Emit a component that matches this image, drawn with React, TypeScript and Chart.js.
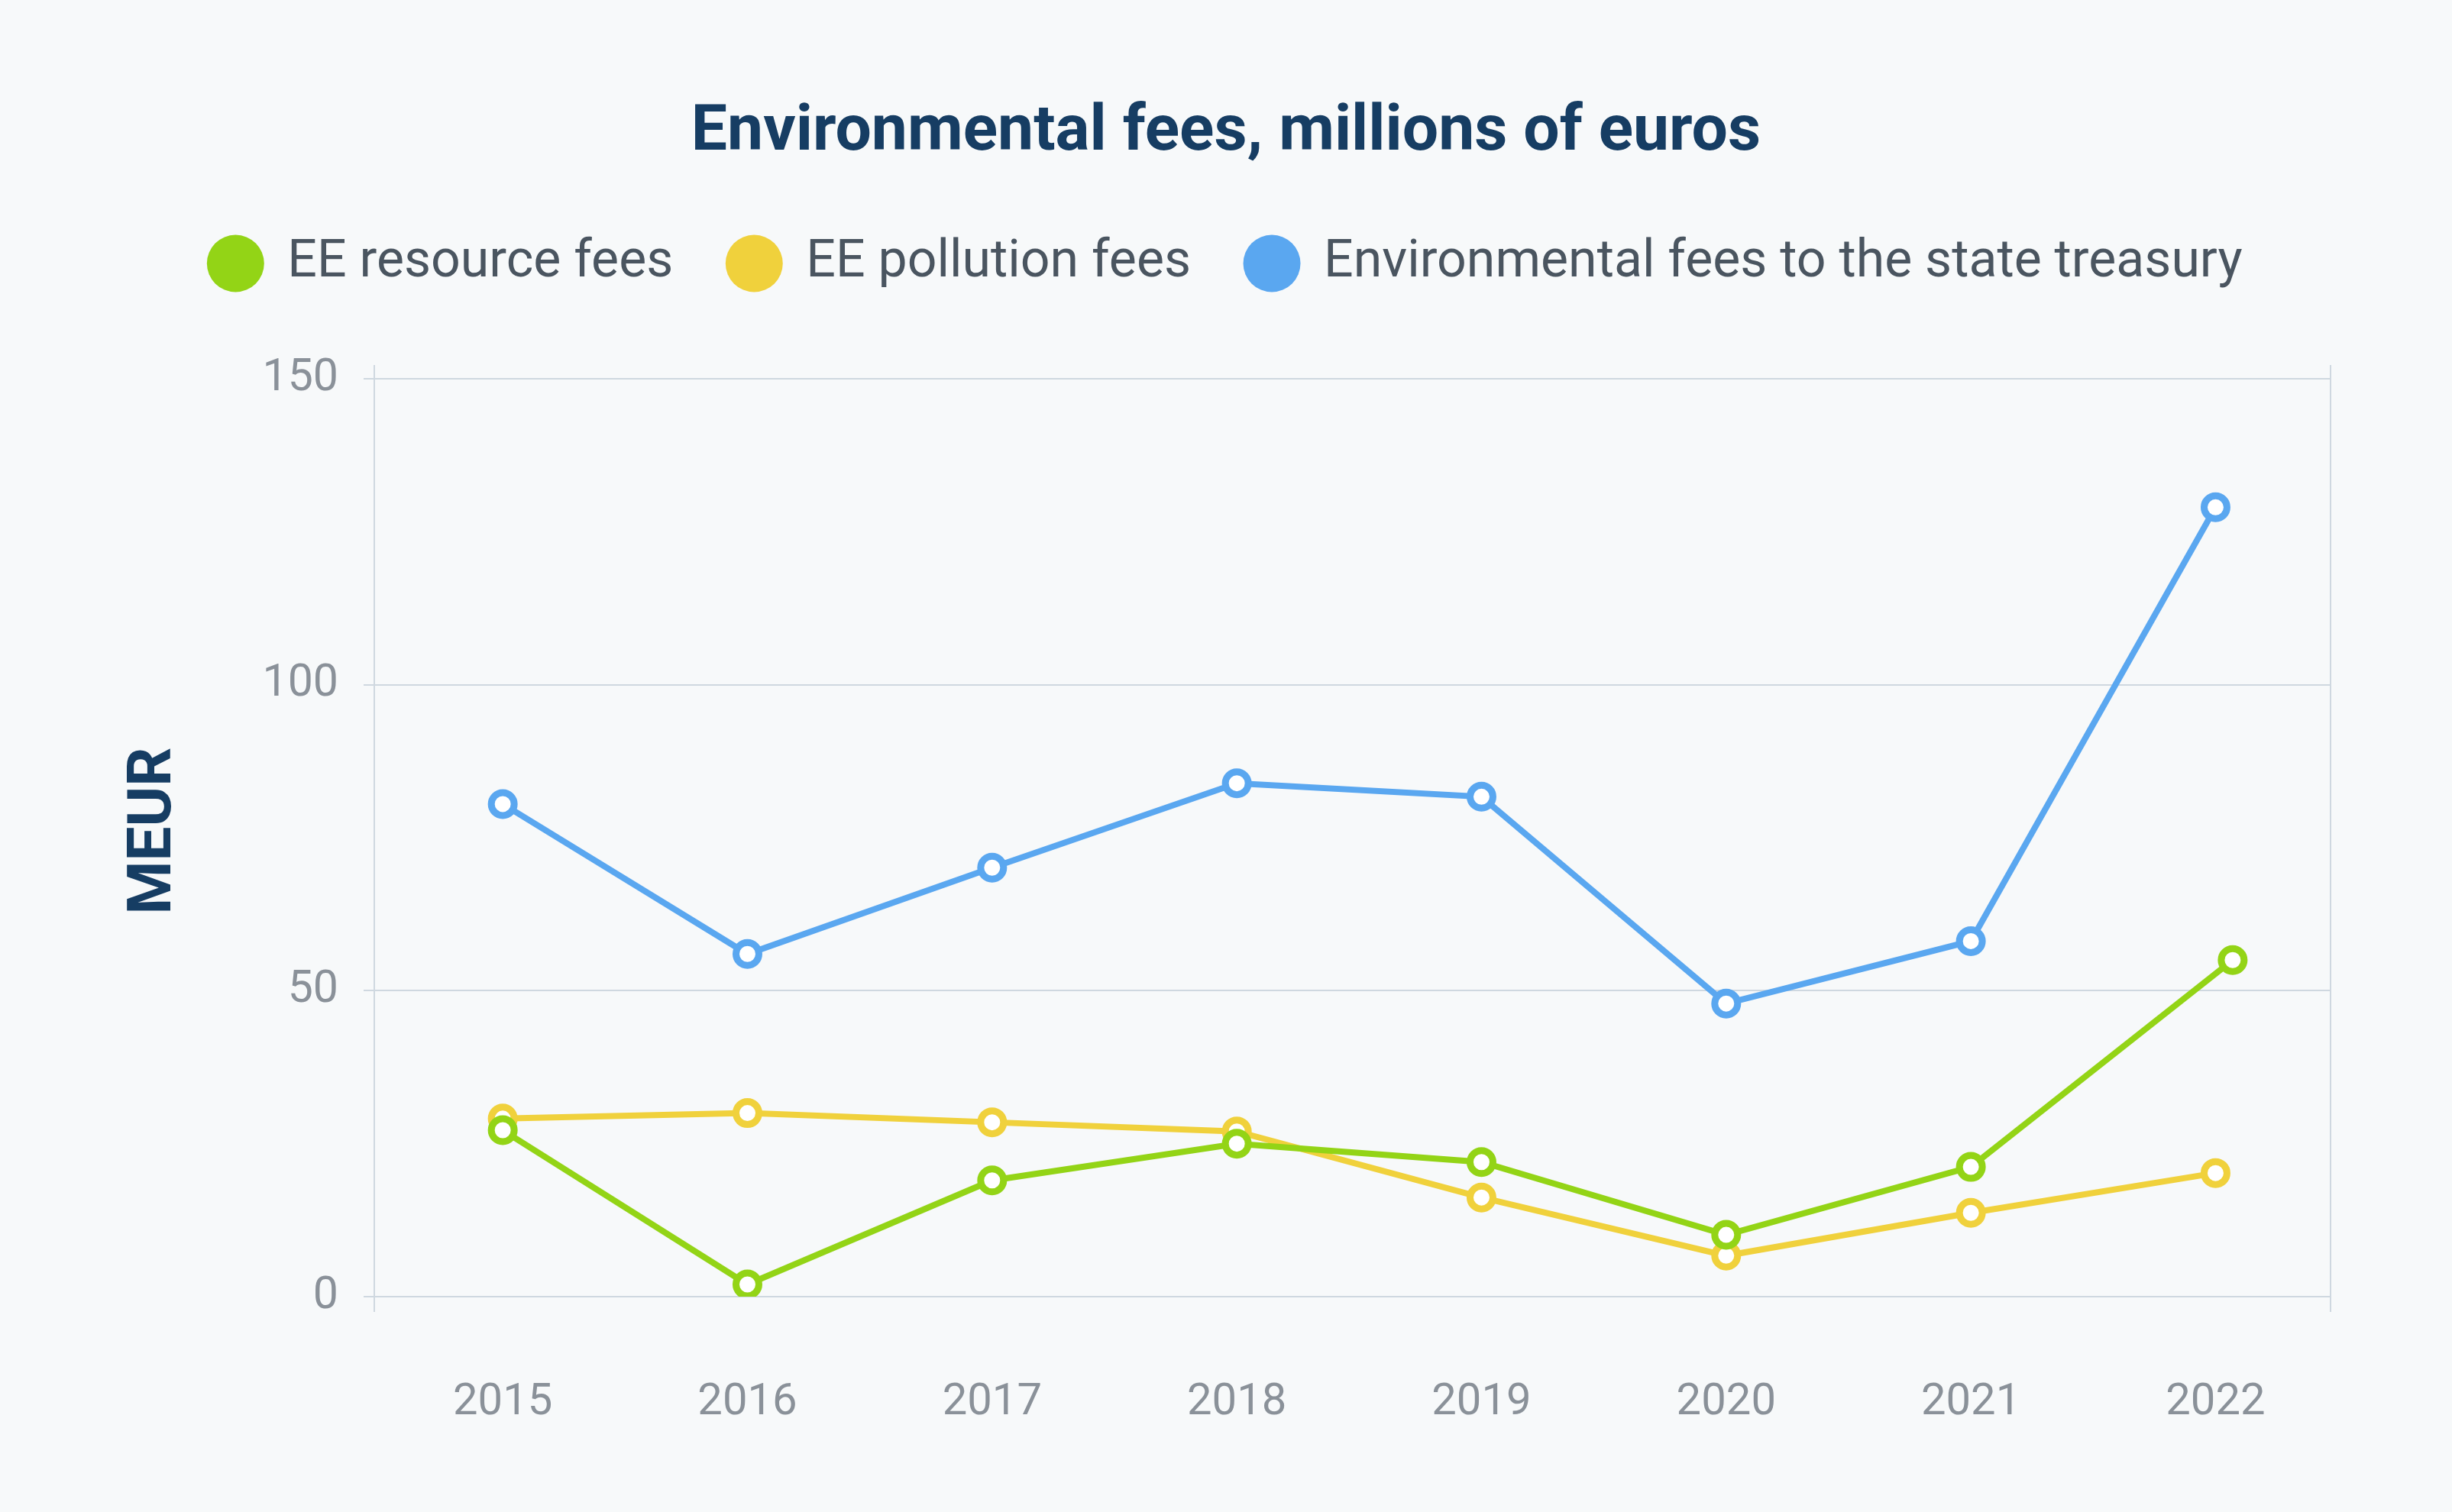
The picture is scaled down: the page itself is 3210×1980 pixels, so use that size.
import React, { useEffect, useRef } from "react";
import { Chart, registerables } from "chart.js";

Chart.register(...registerables);

// ---- data ----
const years = [2015, 2016, 2017, 2018, 2019, 2020, 2021, 2022];
const resourceYears = [2015, 2016, 2017, 2018, 2019, 2020, 2021, 2022.07];
const resourceFees = [27.2, 2.0, 19.0, 25.0, 22.0, 10.1, 21.2, 55.0];
const pollutionFees = [29.1, 30.0, 28.5, 27.0, 16.2, 6.7, 13.7, 20.2];
const treasuryFees = [80.5, 56.0, 70.1, 83.9, 81.7, 47.9, 58.1, 129.0];
const yTicks = [0, 50, 100, 150];
const seriesLabels = [
  "EE resource fees",
  "EE pollution fees",
  "Environmental fees to the state treasury",
];
const titleText = "Environmental fees, millions of euros";
const yTitleText = "MEUR";

// ---- style ----
const FONT = 'Roboto, "Noto Sans", sans-serif';
const BG = "#f7f9fa";
const GRID = "#cfd8e0";
const NAVY = "#163d63";
const LEGEND_TEXT = "#4a5560";
const TICK = "#8a9199";
const GREEN = "#93d416";
const YELLOW = "#f0d13c";
const BLUE = "#5aa7f0";

const framePlugin = {
  id: "frame",
  beforeDraw(chart: any) {
    const c = chart.ctx;
    c.save();
    c.fillStyle = BG;
    c.fillRect(0, 0, chart.width, chart.height);
    c.restore();
  },
  beforeDatasetsDraw(chart: any) {
    const { ctx, chartArea } = chart;
    ctx.save();
    ctx.strokeStyle = GRID;
    ctx.lineWidth = 2;
    for (const x of [chartArea.left, chartArea.right]) {
      ctx.beginPath();
      ctx.moveTo(x, chartArea.top);
      ctx.lineTo(x, chartArea.bottom + 20);
      ctx.stroke();
    }
    ctx.restore();
  },
};

function lineDataset(label: string, xs: number[], ys: number[], color: string) {
  return {
    label,
    data: xs.map((x, i) => ({ x, y: ys[i] })),
    borderColor: color,
    backgroundColor: color,
    borderWidth: 8,
    tension: 0,
    pointRadius: 15,
    pointHoverRadius: 15,
    pointBorderWidth: 9,
    pointBorderColor: color,
    pointBackgroundColor: "#ffffff",
    fill: false,
    yAxisID: "y",
  };
}

export default function App() {
  const ref = useRef<HTMLCanvasElement | null>(null);

  useEffect(() => {
    if (!ref.current) return;
    Chart.defaults.font.family = FONT;
    const chart = new Chart(ref.current, {
      type: "line",
      data: {
        datasets: [
          lineDataset(seriesLabels[0], resourceYears, resourceFees, GREEN),
          lineDataset(seriesLabels[1], years, pollutionFees, YELLOW),
          lineDataset(seriesLabels[2], years, treasuryFees, BLUE),
        ] as any,
      },
      options: {
        responsive: false,
        animation: false,
        devicePixelRatio: 1,
        layout: { padding: 0 },
        plugins: {
          title: {
            display: true,
            text: titleText,
            color: NAVY,
            font: { family: FONT, size: 84, weight: "bold", lineHeight: 1.2 },
            padding: { top: 124.6, bottom: 13.6 },
          },
          subtitle: {
            display: true,
            text: " ",
            weight: 500,
            padding: 0,
            font: { size: 89, lineHeight: 1 },
          } as any,
          legend: {
            display: true,
            position: "top",
            labels: {
              usePointStyle: true,
              pointStyle: "circle",
              boxHeight: 53,
              boxWidth: 68,
              padding: 72,
              color: LEGEND_TEXT,
              font: { family: FONT, size: 68 },
              generateLabels: (chart: any) => {
                const items = (Chart.defaults.plugins.legend.labels as any).generateLabels(chart);
                return items.map((it: any, i: number) => {
                  const c = chart.data.datasets[i].borderColor;
                  return { ...it, fillStyle: c, strokeStyle: c, lineWidth: 0, pointStyle: "circle" };
                });
              },
            },
          },
          tooltip: { enabled: false },
        },
        scales: {
          x: {
            type: "linear",
            min: 2014.475,
            max: 2022.47,
            afterBuildTicks: (s: any) => {
              s.ticks = years.map((v) => ({ value: v }));
            },
            afterFit: (s: any) => {
              s.height = 282;
            },
            grid: { display: false, drawTicks: false, tickLength: 0 },
            border: { display: false },
            ticks: {
              color: TICK,
              font: { family: FONT, size: 58 },
              padding: 105,
              maxRotation: 0,
              autoSkip: false,
              callback: (v: any) => String(v),
            },
          },
          y: {
            type: "linear",
            position: "left",
            min: 0,
            max: 152.25,
            afterBuildTicks: (s: any) => {
              s.ticks = yTicks.map((v) => ({ value: v }));
            },
            afterFit: (s: any) => {
              s.width = 490;
            },
            grid: { color: GRID, lineWidth: 2, drawTicks: true, tickLength: 14 },
            border: { display: false },
            ticks: {
              color: TICK,
              font: { family: FONT, size: 59 },
              padding: 33,
              callback: (v: any) => String(v),
            },
            title: {
              display: true,
              text: yTitleText,
              color: NAVY,
              font: { family: FONT, size: 80, weight: "bold", lineHeight: 1.2 },
              padding: { top: 155, bottom: 0 },
            },
          },
          yRight: {
            type: "linear",
            position: "right",
            display: true,
            min: 0,
            max: 1,
            afterFit: (s: any) => {
              s.width = 159;
            },
            grid: { display: false, drawTicks: false, tickLength: 0 },
            border: { display: false },
            ticks: { display: false },
          },
        },
      } as any,
      plugins: [framePlugin],
    });
    return () => chart.destroy();
  }, []);

  return (
    <div
      style={{
        position: "absolute",
        left: 0,
        top: 0,
        width: 3210,
        height: 1980,
        background: BG,
      }}
    >
      <canvas ref={ref} width={3210} height={1980} style={{ width: 3210, height: 1980, display: "block" }} />
    </div>
  );
}
